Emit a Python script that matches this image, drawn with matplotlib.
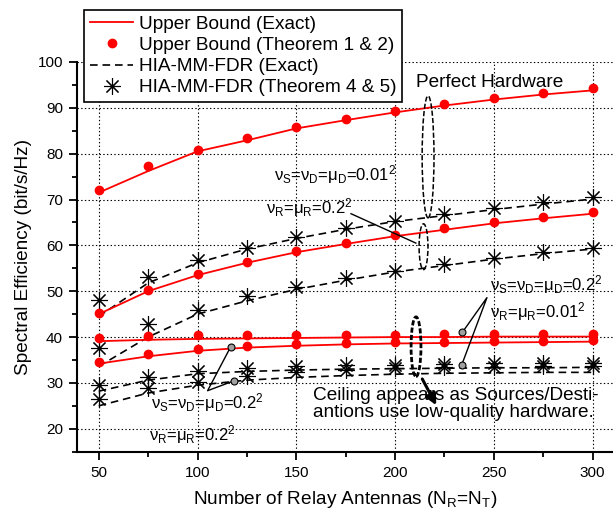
import matplotlib
matplotlib.use('Agg')
import matplotlib.pyplot as plt
from matplotlib.lines import Line2D
from matplotlib.patches import Ellipse

plt.rcParams['font.family'] = ['Liberation Sans', 'DejaVu Sans']
plt.rcParams['mathtext.fontset'] = 'custom'
plt.rcParams['mathtext.rm'] = 'Liberation Sans'
plt.rcParams['mathtext.default'] = 'regular'
plt.rcParams['lines.scale_dashes'] = False

# Данные
n_relay = [50, 75, 100, 125, 150, 175, 200, 225, 250, 275, 300]

# perfect hardware
ub_perf_exact = [71.5, 76.2, 80.5, 82.9, 85.5, 87.3, 89.0, 90.5, 91.8, 92.9, 93.8]
ub_perf_thm = [72.1, 77.3, 80.7, 83.5, 85.8, 87.6, 89.4, 90.8, 92.2, 93.2, 94.4]

# nu_S=nu_D=mu_D=0.01^2, nu_R=mu_R=0.2^2
ub_mid_exact = [45.0, 50.0, 53.5, 56.2, 58.5, 60.3, 62.0, 63.4, 64.8, 65.9, 66.9]
ub_mid_thm = [45.25, 50.2, 53.7, 56.4, 58.7, 60.5, 62.2, 63.7, 65.0, 66.1, 67.2]
hia_top_exact = [44.5, 51.8, 56.2, 59.2, 61.5, 63.5, 65.2, 66.5, 67.8, 69.0, 70.1]
hia_top_thm = [48.1, 53.1, 56.9, 59.5, 61.9, 63.8, 65.4, 66.8, 68.1, 69.4, 70.5]
hia_mid_exact = [33.6, 40.0, 45.0, 47.9, 50.4, 52.4, 54.2, 55.6, 57.0, 58.2, 59.2]
hia_mid_thm = [37.6, 42.9, 46.0, 48.9, 51.0, 52.9, 54.5, 55.9, 57.2, 58.5, 59.4]

# low-quality sources/destinations
ub_lowA_exact = [39.1, 39.4, 39.6, 39.7, 39.8, 39.9, 40.0, 40.0, 40.1, 40.1, 40.1]
ub_lowA_thm = [39.9, 40.2, 40.4, 40.4, 40.5, 40.5, 40.5, 40.6, 40.6, 40.6, 40.6]
ub_lowB_exact = [34.2, 35.8, 37.0, 37.7, 38.1, 38.4, 38.6, 38.7, 38.8, 38.9, 39.0]
ub_lowB_thm = [34.5, 36.2, 37.3, 38.0, 38.4, 38.7, 38.9, 39.0, 39.1, 39.2, 39.3]
hia_lowA_exact = [28.2, 30.6, 32.0, 32.5, 32.8, 33.0, 33.1, 33.2, 33.3, 33.3, 33.4]
hia_lowA_thm = [29.6, 31.3, 32.7, 33.3, 33.6, 33.8, 34.0, 34.1, 34.3, 34.4, 34.4]
hia_lowB_exact = [25.0, 27.8, 29.5, 30.6, 31.2, 31.6, 31.9, 32.1, 32.2, 32.3, 32.3]
hia_lowB_thm = [26.5, 28.9, 30.3, 31.6, 32.3, 32.8, 33.2, 33.4, 33.5, 33.6, 33.7]

ub_exact = [ub_perf_exact, ub_mid_exact, ub_lowA_exact, ub_lowB_exact]
ub_thm = [ub_perf_thm, ub_mid_thm, ub_lowA_thm, ub_lowB_thm]
hia_exact = [hia_top_exact, hia_mid_exact, hia_lowA_exact, hia_lowB_exact]
hia_thm = [hia_top_thm, hia_mid_thm, hia_lowA_thm, hia_lowB_thm]

legend_labels = ['Upper Bound (Exact)', 'Upper Bound (Theorem 1 & 2)',
                 'HIA-MM-FDR (Exact)', 'HIA-MM-FDR (Theorem 4 & 5)']

RED = '#ff0000'
DASH = (5.5, 3.5)
AST = (8, 2, 0)

fig = plt.figure(figsize=(6.13, 5.12), dpi=100)
ax = fig.add_axes([0.1256, 0.1178, 0.8744, 0.7612])

for ys in hia_exact:
    ax.plot(n_relay, ys, color='k', lw=1.2, dashes=DASH, zorder=3)
for ys in hia_thm:
    ax.plot(n_relay, ys, ls='none', marker=AST, ms=12, mew=0.8, color='k', zorder=4)
for ys in ub_exact:
    ax.plot(n_relay, ys, color=RED, lw=1.3, zorder=5)
for ys in ub_thm:
    ax.plot(n_relay, ys, ls='none', marker='o', ms=6, color=RED, zorder=6)

ax.set_xlim(39, 310.3)
ax.set_ylim(15, 100)
ax.set_xticks([50, 100, 150, 200, 250, 300])
ax.set_xticks([75, 125, 175, 225, 275], minor=True)
ax.set_yticks(range(20, 101, 10))
ax.set_yticks(range(15, 100, 10), minor=True)
ax.tick_params(which='major', direction='out', length=6, width=1.3, labelsize=11, pad=4)
ax.tick_params(which='minor', direction='out', length=3.5, width=1.3)
ax.grid(True, which='major', color='k', ls=':', lw=0.8)
ax.set_axisbelow(True)
for s in ['top', 'right']:
    ax.spines[s].set_visible(False)
for s in ['left', 'bottom']:
    ax.spines[s].set_linewidth(1.5)

ax.set_xlabel('Number of Relay Antennas (N$_R$=N$_T$)', fontsize=13.7, labelpad=7)
ax.set_ylabel('Spectral Efficiency (bit/s/Hz)', fontsize=13.7, labelpad=4)

# Эллипсы и стрелка
ax.add_patch(Ellipse((216.7, 79.3), 6, 26.6, fill=False, ls='--', lw=1.1, zorder=7))
ax.add_patch(Ellipse((214.4, 59.7), 4.5, 10, fill=False, ls='--', lw=1.1, zorder=7))
ax.add_patch(Ellipse((210.6, 37.9), 5, 13, fill=False, ls='--', lw=2.0, zorder=7))
ax.annotate('', xy=(221.5, 24.6), xytext=(213.1, 31.4),
            arrowprops=dict(arrowstyle='-|>', lw=2.2, color='k', mutation_scale=16), zorder=8)

ax.text(210.6, 95.5, 'Perfect Hardware', fontsize=13.7, ha='left', va='center', zorder=8)
ax.text(158.3, 25.5, 'Ceiling appears as Sources/Desti-\nantions use low-quality hardware.',
        fontsize=13.7, ha='left', va='center', linespacing=1.0, zorder=8)

# Подписи параметров
pfs = 12
ax.text(138.9, 75.4, r'ν$_S$=ν$_D$=μ$_D$=0.01$^2$', fontsize=pfs, ha='left', va='center', zorder=8)
ax.text(134.8, 68.2, r'ν$_R$=μ$_R$=0.2$^2$', fontsize=pfs, ha='left', va='center', zorder=8)
ax.plot([177.7, 210.5], [66.9, 60.5], color='k', lw=1.0, zorder=8)

ax.text(248, 51.4, r'ν$_S$=ν$_D$=μ$_D$=0.2$^2$', fontsize=pfs, ha='left', va='center', zorder=8)
ax.text(248, 45.6, r'ν$_R$=μ$_R$=0.01$^2$', fontsize=pfs, ha='left', va='center', zorder=8)
ax.plot([234.0, 246.5, 233.8], [41.0, 48.6, 34.0], color='k', lw=1.0, zorder=8)
ax.plot([234.0, 233.8], [41.0, 34.0], ls='none', marker='o', ms=5,
        mfc='#a0a0a0', mec='k', mew=0.8, zorder=9)

ax.text(76.3, 25.7, r'ν$_S$=ν$_D$=μ$_D$=0.2$^2$', fontsize=pfs, ha='left', va='center', zorder=8)
ax.text(75.3, 18.7, r'ν$_R$=μ$_R$=0.2$^2$', fontsize=pfs, ha='left', va='center', zorder=8)
ax.plot([116.7, 105.1, 118.7], [37.8, 28.3, 30.5], color='k', lw=1.0, zorder=8)
ax.plot([116.7, 118.7], [37.8, 30.5], ls='none', marker='o', ms=5,
        mfc='#a0a0a0', mec='k', mew=0.8, zorder=9)

# Легенда
handles = [
    Line2D([], [], color=RED, lw=1.3),
    Line2D([], [], color=RED, ls='none', marker='o', ms=6),
    Line2D([], [], color='k', lw=1.2, dashes=DASH),
    Line2D([], [], color='k', ls='none', marker=AST, ms=12, mew=0.8),
]
leg = fig.legend(handles, legend_labels, loc='upper left',
                 bbox_to_anchor=(84 / 613, 1 - 10 / 512), bbox_transform=fig.transFigure,
                 fontsize=13.7, frameon=True, fancybox=False, shadow=False,
                 borderpad=0.3, labelspacing=0.2, handlelength=2.3, handletextpad=0.3,
                 borderaxespad=0)
leg.get_frame().set_edgecolor('k')
leg.get_frame().set_linewidth(1.2)
leg.get_frame().set_alpha(1)
leg.set_zorder(20)

fig.savefig('out.png', dpi=100)
